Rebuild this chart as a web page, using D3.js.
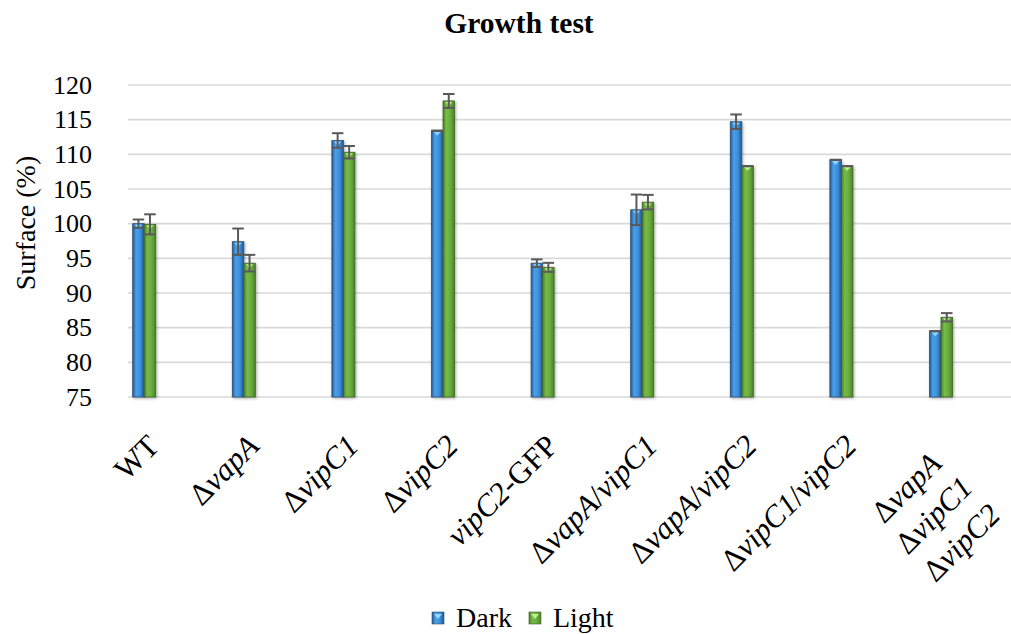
<!DOCTYPE html>
<html>
<head>
<meta charset="utf-8">
<script src="https://cdn.jsdelivr.net/npm/d3@7"></script>
<style>
  html, body { margin: 0; padding: 0; background: #fff; }
  svg { display: block; font-family: "Liberation Serif", "Times New Roman", serif; }
</style>
</head>
<body>
<svg id="chart" width="1011" height="634"></svg>
<script>
// data
const categories = ["WT", "ΔvapA", "ΔvipC1", "ΔvipC2", "vipC2-GFP", "ΔvapA/vipC1", "ΔvapA/vipC2", "ΔvipC1/vipC2", "ΔvapA\nΔvipC1\nΔvipC2"];
const seriesNames = ["Dark", "Light"];
const darkValues = [100.0, 97.4, 112.0, 113.4, 94.3, 102.0, 114.7, 109.2, 84.5];
const lightValues = [99.9, 94.3, 110.3, 117.7, 93.7, 103.1, 108.3, 108.3, 86.5];
const darkErrors = [0.6, 1.9, 1.05, 0, 0.55, 2.2, 1.05, 0, 0];
const lightErrors = [1.45, 1.2, 0.9, 1.0, 0.65, 1.05, 0, 0, 0.6];
const yTicks = [75, 80, 85, 90, 95, 100, 105, 110, 115, 120];

const size = { width: 1011, height: 634, left: 128, right: 1011, top: 85, bottom: 397 };

const svg = d3.select("#chart");
const defs = svg.append("defs");

const palette = {
  Dark: { edge: "#245a94", mid: "#3d8fdc", light: "#4aa0ea", cap: "#9ad8ff", stroke: "#2b4f73" },
  Light: { edge: "#4a8328", mid: "#6aab3e", light: "#78bb48", cap: "#c2ee92", stroke: "#3d6324" }
};

seriesNames.forEach(s => {
  const c = palette[s];
  const g = defs.append("linearGradient").attr("id", "grad-" + s).attr("x1", 0).attr("x2", 1).attr("y1", 0).attr("y2", 0);
  g.append("stop").attr("offset", "0%").attr("stop-color", c.edge);
  g.append("stop").attr("offset", "30%").attr("stop-color", c.light);
  g.append("stop").attr("offset", "65%").attr("stop-color", c.mid);
  g.append("stop").attr("offset", "100%").attr("stop-color", c.edge);
});

const shadow = defs.append("filter").attr("id", "shadow").attr("x", "-50%").attr("y", "-10%").attr("width", "200%").attr("height", "120%");
shadow.append("feDropShadow").attr("dx", 1).attr("dy", 1).attr("stdDeviation", 1.6).attr("flood-color", "#000").attr("flood-opacity", 0.35);

// scales
const x = d3.scaleBand()
  .domain(categories)
  .range([size.left, size.left + 9 * 99.6])
  .padding(0);

const xs = d3.scaleBand()
  .domain(seriesNames)
  .range([4.7, 27.7])
  .padding(0);

const y = d3.scaleLinear()
  .domain([75, 120])
  .range([size.bottom, size.top]);

// grid
svg.append("g")
  .selectAll("line")
  .data(yTicks)
  .join("line")
  .attr("x1", size.left)
  .attr("x2", size.right)
  .attr("y1", d => y(d))
  .attr("y2", d => y(d))
  .attr("stroke", "#d9d9d9")
  .attr("stroke-width", 1.6);

// y axis labels
const yAxis = d3.axisLeft(y).tickValues(yTicks).tickSize(0).tickPadding(36);
const gy = svg.append("g")
  .attr("transform", `translate(${size.left},0)`)
  .call(yAxis);
gy.select(".domain").remove();
gy.selectAll("text")
  .attr("font-family", "Liberation Serif")
  .attr("font-size", 26)
  .attr("fill", "#000");

// rows for bars
const rows = [];
categories.forEach((c, i) => {
  rows.push({ cat: c, series: "Dark", value: darkValues[i], err: darkErrors[i] });
  rows.push({ cat: c, series: "Light", value: lightValues[i], err: lightErrors[i] });
});

const gBars = svg.append("g");

gBars.selectAll("rect.bar")
  .data(rows)
  .join("rect")
  .attr("class", "bar")
  .attr("x", d => x(d.cat) + xs(d.series))
  .attr("y", d => y(d.value))
  .attr("width", xs.bandwidth())
  .attr("height", d => y(75) - y(d.value))
  .attr("fill", d => `url(#grad-${d.series})`)
  .attr("stroke", d => palette[d.series].stroke)
  .attr("stroke-width", 0.8)
  .attr("filter", "url(#shadow)");

// small bevel at the top of each bar
gBars.selectAll("path.bevel")
  .data(rows)
  .join("path")
  .attr("class", "bevel")
  .attr("d", d => {
    const x0 = x(d.cat) + xs(d.series);
    const w = xs.bandwidth();
    const t = y(d.value);
    return `M${x0 + 2},${t + 1}L${x0 + w - 2},${t + 1}L${x0 + w / 2},${t + 5}Z`;
  })
  .attr("fill", d => palette[d.series].cap)
  .attr("opacity", 0.9);

// error bars
const gErr = svg.append("g")
  .attr("stroke", "#595959")
  .attr("stroke-width", 2)
  .attr("fill", "none");

rows.forEach(d => {
  const cx = x(d.cat) + xs(d.series) + xs.bandwidth() / 2;
  const half = xs.bandwidth() / 2;
  const yTop = y(d.value + d.err);
  const yBot = y(d.value - d.err);
  gErr.append("line").attr("x1", cx).attr("x2", cx).attr("y1", yTop).attr("y2", yBot);
  gErr.append("line").attr("x1", cx - half).attr("x2", cx + half).attr("y1", yTop).attr("y2", yTop);
  gErr.append("line").attr("x1", cx - half).attr("x2", cx + half).attr("y1", yBot).attr("y2", yBot);
});

// category labels, rotated, gene names in italic
function addRich(textSel, str) {
  const parts = str.split(/(vapA|vipC1|vipC2)/).filter(p => p.length);
  parts.forEach(p => {
    textSel.append("tspan")
      .attr("font-style", /^(vapA|vipC1|vipC2)$/.test(p) ? "italic" : "normal")
      .text(p);
  });
}

const labelSize = 31;
const lineH = 39;
const gLab = svg.append("g").attr("font-size", labelSize).attr("fill", "#000");
categories.forEach(c => {
  const lines = c.split("\n");
  const cx = x(c) + xs.range()[0] + xs.bandwidth();
  const multi = lines.length > 1;
  const g = gLab.append("g")
    .attr("transform", `translate(${cx - 3 - (multi ? 11 : 0)},${428 + (multi ? 14 : 0)}) rotate(-45)`);
  const texts = lines.map((ln, i) => {
    const t = g.append("text")
      .attr("y", 0)
      .attr("dy", (0.9 * labelSize + i * lineH) + "px")
      .attr("text-anchor", "middle");
    addRich(t, ln);
    return t;
  });
  const maxW = d3.max(texts, t => t.node().getComputedTextLength());
  texts.forEach(t => t.attr("x", -maxW / 2));
});

// title
svg.append("text")
  .attr("x", 519)
  .attr("y", 33)
  .attr("text-anchor", "middle")
  .attr("font-size", 29.5)
  .attr("font-weight", "bold")
  .text("Growth test");

// y axis title
svg.append("text")
  .attr("transform", `translate(35,${(size.top + size.bottom) / 2 - 18}) rotate(-90)`)
  .attr("text-anchor", "middle")
  .attr("font-size", 28)
  .text("Surface (%)");

// legend
const legend = svg.append("g").attr("transform", "translate(432,612)");
let lx = 0;
seriesNames.forEach(s => {
  const item = legend.append("g").attr("transform", `translate(${lx},0)`);
  item.append("rect")
    .attr("width", 12).attr("height", 12)
    .attr("fill", `url(#grad-${s})`)
    .attr("stroke", palette[s].stroke).attr("stroke-width", 0.6);
  item.append("path")
    .attr("d", "M2,2L10,2L6,7Z")
    .attr("fill", palette[s].cap);
  const t = item.append("text")
    .attr("x", 24)
    .attr("y", 15)
    .attr("font-size", 28)
    .text(s);
  lx += 24 + t.node().getComputedTextLength() + 17;
});
</script>
</body>
</html>
